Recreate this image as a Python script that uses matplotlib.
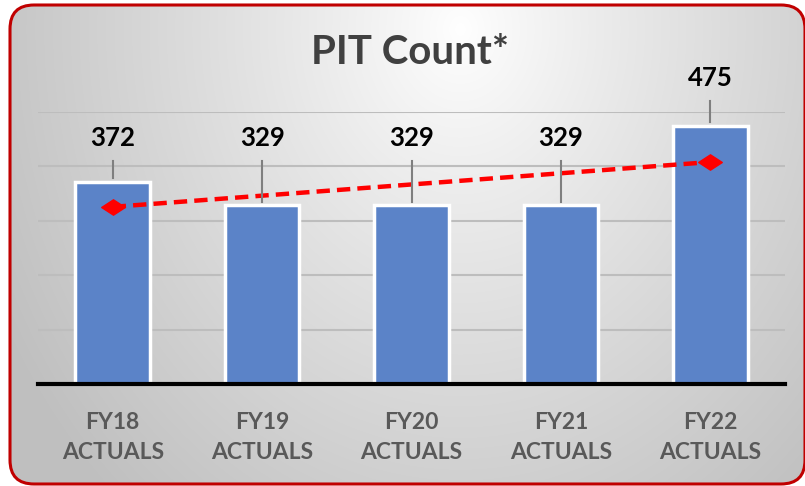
import matplotlib.pyplot as plt
import numpy as np
from matplotlib.patches import FancyBboxPatch
from matplotlib.path import Path

# PIT count by fiscal year
categories = ["FY18\nACTUALS", "FY19\nACTUALS", "FY20\nACTUALS", "FY21\nACTUALS", "FY22\nACTUALS"]
counts = [372, 329, 329, 329, 475]

plt.rcParams['font.family'] = ['Lato', 'DejaVu Sans']

W, H = 805, 486
fig = plt.figure(figsize=(W / 100, H / 100), dpi=100)

# background panel: soft radial gradient inside a rounded red frame
bg = fig.add_axes([0, 0, 1, 1])
bg.set_xlim(0, W)
bg.set_ylim(H, 0)
bg.axis('off')
yy, xx = np.mgrid[0:H, 0:W]
t = np.sqrt(((xx - 460) / 430.0) ** 2 + ((yy - 30) / 520.0) ** 2)
shade = 1 - 0.21 * np.clip(t, 0, 1.2) ** 0.9
img = np.dstack([shade, shade, shade])
im = bg.imshow(img, extent=(0, W, H, 0), zorder=0)
frame = FancyBboxPatch((10, 5), 795, 479, boxstyle="round,pad=0,rounding_size=24",
                       facecolor='none', edgecolor='#c00000', linewidth=2.2, zorder=2)
bg.add_patch(frame)
im.set_clip_path(frame)

ax = fig.add_axes([38 / W, 1 - 384 / H, (785 - 38) / W, (384 - 112) / H])
ax.patch.set_alpha(0)
x = np.arange(len(categories))

ax.bar(x, counts, width=0.5, color='#5B83C8', edgecolor='white', linewidth=2.5, zorder=2)

# linear trend across the years, diamonds at the ends
coef = np.polyfit(x, counts, 1)
trend = np.polyval(coef, x)
diamond = Path([(-1, 0), (0, 0.65), (1, 0), (0, -0.65), (-1, 0)],
               [Path.MOVETO, Path.LINETO, Path.LINETO, Path.LINETO, Path.CLOSEPOLY])
ax.plot(x, trend, color='#ff0000', linestyle=(0, (3, 1.6)), linewidth=3.2,
        marker=diamond, markersize=17, markevery=[0, len(x) - 1], zorder=3)

# value labels with leader lines
label_y = [452 if v < 400 else 562 for v in counts]
for xi, v, ly in zip(x, counts, label_y):
    ax.plot([xi, xi], [v + 6, ly - 42], color='#7f7f7f', linewidth=1.5, zorder=4, clip_on=False)
    ax.text(xi, ly, str(v), ha='center', va='center', fontsize=18.5, fontweight='bold',
            color='black', zorder=5, clip_on=False)

ax.set_xlim(-0.5, len(categories) - 0.5)
ax.set_ylim(0, 500)
ax.set_yticks(np.arange(100, 501, 100))
ax.yaxis.grid(True, color='#bdbdbd', linewidth=1.5, zorder=0)
ax.set_axisbelow(True)
ax.tick_params(axis='y', left=False, labelleft=False)
ax.tick_params(axis='x', length=0, pad=20)
ax.set_xticks(x)
ax.set_xticklabels(categories, fontsize=16.5, fontweight='bold', color='#595959', linespacing=1.55)
for side in ['left', 'right', 'top']:
    ax.spines[side].set_visible(False)
ax.spines['bottom'].set_linewidth(3)
ax.spines['bottom'].set_color('black')
ax.spines['bottom'].set_zorder(4)

fig.text(410 / W, 1 - 53 / H, "PIT Count*", ha='center', va='center', fontsize=29,
         fontweight='bold', color='#404040')

fig.savefig('out.png', dpi=100)
